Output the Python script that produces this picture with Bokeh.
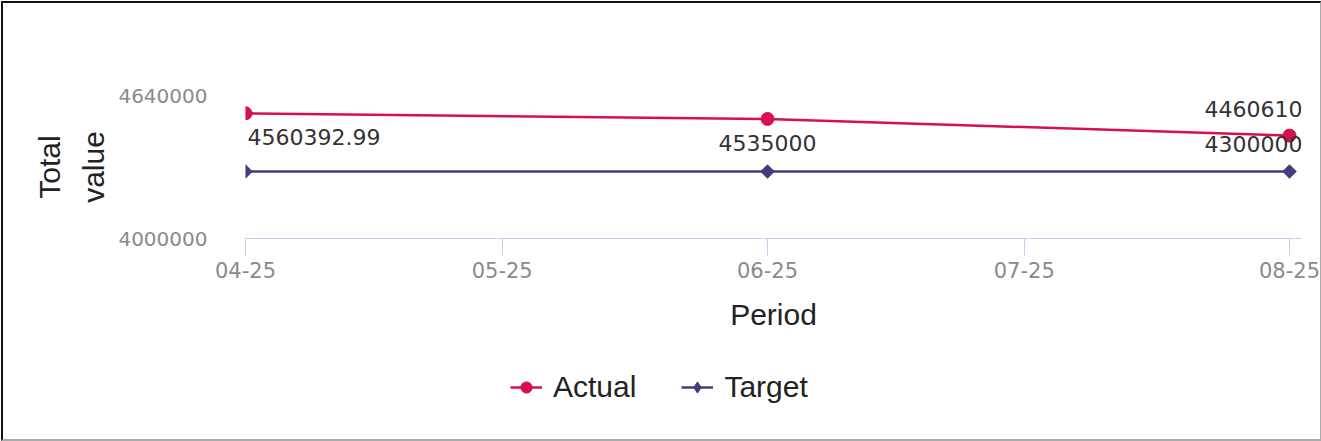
import math
import pandas as pd
from bokeh.plotting import figure
from bokeh.layouts import column
from bokeh.models import (ColumnDataSource, Range1d, FixedTicker, BasicTickFormatter,
                          DatetimeTickFormatter, MonthsTicker, Legend, LegendItem)
from bokeh.core.properties import field, value
from bokeh.embed import file_html
from bokeh.resources import INLINE

# ---------------- data ----------------
periods = ["2025-04-01", "2025-06-01", "2025-08-01"]
actual = [4560392.99, 4535000, 4460610]
target = [4300000, 4300000, 4300000]
y_ticks = [4000000, 4640000]
series_names = ["Actual", "Target"]

# label styling (which labels show, where)
actual_label_side = ["below", "below", "above"]
actual_label_align = ["left", "center", "right"]
target_label_show = [False, False, True]
target_label_align = ["left", "center", "right"]

ACTUAL_C = "#d7114f"
TARGET_C = "#443d7a"
AXIS_C = "#c3cfe8"
TICK_TXT = "#8a8a8a"
NUM_FONT = "DejaVu Sans"
TXT_FONT = "Liberation Sans"
DARK_B = "2px solid #111"
LIGHT_B = "2px solid #aaa"

x = pd.to_datetime(periods)


def fmt(v):
    return f"{v:.2f}".rstrip("0").rstrip(".")


align_dx = {"left": 2, "center": 0, "right": 13}
side_dy = {"below": 24, "above": -27}

p = figure(width=1320, height=350, x_axis_type="datetime",
           output_backend="svg", toolbar_location=None,
           min_border_left=242, min_border_right=22,
           min_border_top=92, min_border_bottom=115,
           styles={"border-top": DARK_B, "border-left": DARK_B,
                   "border-right": "1px solid #aaa"})

p.x_range = Range1d(start=x[0], end=x[-1] + pd.Timedelta(days=1.4))
p.y_range = Range1d(start=y_ticks[0], end=y_ticks[-1])

p.grid.visible = False
p.outline_line_color = None
p.background_fill_color = "white"
p.border_fill_color = "white"

src_a = ColumnDataSource(dict(x=x, y=actual))
src_t = ColumnDataSource(dict(x=x, y=target))

line_a = dict(line_color=ACTUAL_C, line_width=2.5)
mark_a = dict(marker="circle", size=13, fill_color=ACTUAL_C, line_color=ACTUAL_C)
line_t = dict(line_color=TARGET_C, line_width=2.5)
mark_t = dict(marker="square", size=9.5, angle=math.pi / 4,
              fill_color=TARGET_C, line_color=TARGET_C)
mark_t_legend = dict(marker="diamond", size=12, fill_color=TARGET_C, line_color=TARGET_C)

p.line("x", "y", source=src_a, **line_a)
p.scatter("x", "y", source=src_a, **mark_a)
p.line("x", "y", source=src_t, **line_t)
p.scatter("x", "y", source=src_t, **mark_t)

# data labels
lx, ly, lt_txt, lal, lxo, lyo = [], [], [], [], [], []
for i in range(len(actual)):
    lx.append(x[i]); ly.append(actual[i]); lt_txt.append(fmt(actual[i]))
    lal.append(actual_label_align[i]); lxo.append(align_dx[actual_label_align[i]])
    lyo.append(side_dy[actual_label_side[i]])
for i in range(len(target)):
    if target_label_show[i]:
        lx.append(x[i]); ly.append(target[i]); lt_txt.append(fmt(target[i]))
        lal.append(target_label_align[i]); lxo.append(align_dx[target_label_align[i]])
        lyo.append(side_dy["above"])
src_l = ColumnDataSource(dict(x=lx, y=ly, text=lt_txt, align=lal, xo=lxo, yo=lyo))
p.text(x="x", y="y", text="text", source=src_l, text_align=field("align"),
       text_baseline="alphabetic", x_offset=field("xo"), y_offset=field("yo"),
       text_font=value(NUM_FONT), text_font_size="22px", text_color="#333333")

# y axis
ya = p.yaxis[0]
ya.ticker = FixedTicker(ticks=y_ticks)
ya.formatter = BasicTickFormatter(use_scientific=False)
ya.axis_line_color = None
ya.major_tick_line_color = None
ya.minor_tick_line_color = None
ya.major_label_standoff = 32
ya.major_label_text_font = NUM_FONT
ya.major_label_text_font_size = "20px"
ya.major_label_text_color = TICK_TXT
ya.axis_label = "Total\nvalue"
ya.axis_label_text_font = TXT_FONT
ya.axis_label_text_font_size = "30px"
ya.axis_label_text_font_style = "normal"
ya.axis_label_text_color = "#222222"
ya.axis_label_text_line_height = 1.35
ya.axis_label_standoff = 5

# x axis
xa = p.xaxis[0]
xa.ticker = MonthsTicker(months=list(range(12)))
xa.formatter = DatetimeTickFormatter(months="%m-%y", days="%m-%y", years="%m-%y")
xa.axis_line_color = AXIS_C
xa.major_tick_line_color = AXIS_C
xa.minor_tick_line_color = None
xa.major_tick_out = 17
xa.major_tick_in = 0
xa.major_label_standoff = 6
xa.major_label_text_font = NUM_FONT
xa.major_label_text_font_size = "21px"
xa.major_label_text_color = TICK_TXT
xa.axis_label = "Period"
xa.axis_label_text_font = TXT_FONT
xa.axis_label_text_font_size = "30px"
xa.axis_label_text_font_style = "normal"
xa.axis_label_text_color = "#222222"
xa.axis_label_standoff = 17

# ---------------- legend strip (separate canvas, full width) ----------------
pl = figure(width=1320, height=90, output_backend="svg", toolbar_location=None,
            x_axis_location=None, y_axis_location=None,
            min_border=0, min_border_left=0, min_border_right=0,
            min_border_top=0, min_border_bottom=0,
            x_range=Range1d(0, 1), y_range=Range1d(0, 1),
            styles={"border-left": DARK_B, "border-right": "1px solid #aaa",
                    "border-bottom": LIGHT_B})
pl.grid.visible = False
pl.outline_line_color = None
pl.border_fill_color = "white"
ra1 = pl.line("x", "y", source=src_a, **line_a)
ra2 = pl.scatter("x", "y", source=src_a, **mark_a)
rt1 = pl.line("x", "y", source=src_t, **line_t)
rt2 = pl.scatter("x", "y", source=src_t, **mark_t_legend)

legend = Legend(items=[LegendItem(label=series_names[0], renderers=[ra1, ra2]),
                       LegendItem(label=series_names[1], renderers=[rt1, rt2])],
                orientation="horizontal", location=(265, 37),
                label_text_font=TXT_FONT, label_text_font_size="30px",
                label_text_color="#222222",
                glyph_width=32, glyph_height=28, label_standoff=11, spacing=45,
                padding=0, margin=0, border_line_color=None,
                background_fill_alpha=0)
pl.add_layout(legend, "center")

layout = column(p, pl, spacing=0,
                styles={"position": "absolute", "left": "1px", "top": "1px"})

open("out.html", "w").write(file_html(layout, INLINE))
